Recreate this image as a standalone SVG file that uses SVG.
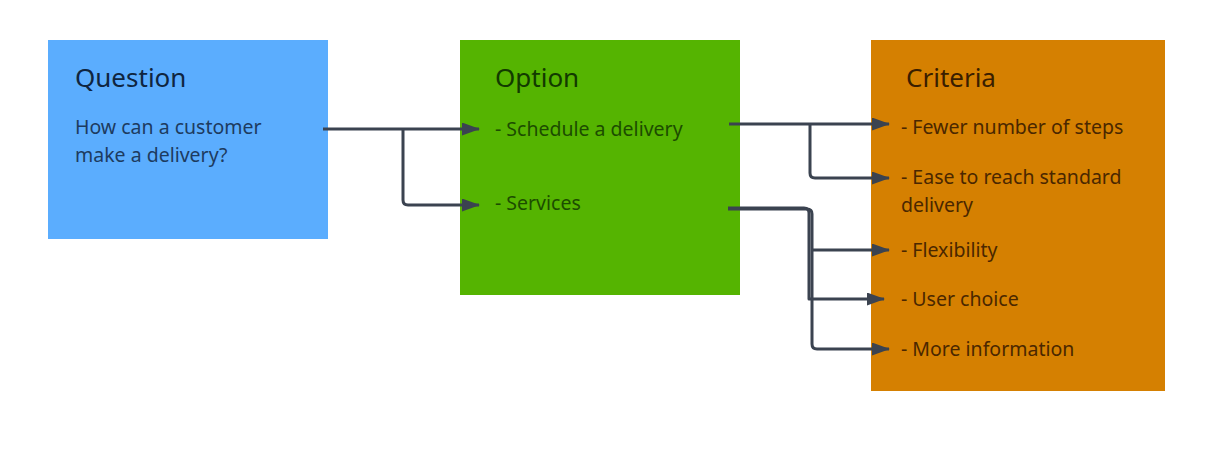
<svg xmlns="http://www.w3.org/2000/svg" width="1215" height="455" viewBox="0 0 1215 455">
<style>
.t{font-family:"Noto Sans","Liberation Sans",sans-serif;font-size:26px}
.b{font-family:"Noto Sans","Liberation Sans",sans-serif;font-size:19.5px}
.c{fill:none;stroke:#3b4350;stroke-width:3;stroke-linejoin:round}
</style>
<defs>
<marker id="ah" markerWidth="18" markerHeight="13" refX="17" refY="6.5" orient="auto" markerUnits="userSpaceOnUse">
<path d="M0,0 L18,6.5 L0,13 Z" fill="#3b4350"/>
</marker>
</defs>
<rect width="1215" height="455" fill="#ffffff"/>
<g id="question">
<rect x="48" y="40" width="280" height="199" fill="#5badfe"/>
<text class="t" x="75" y="87" fill="#0f2540">Question</text>
<text class="b" x="75" y="134" fill="#1d3b60">How can a customer</text>
<text class="b" x="75" y="162" fill="#1d3b60">make a delivery?</text>
</g>
<g id="option">
<rect x="460" y="40" width="280" height="255" fill="#55b401"/>
<text class="t" x="495" y="87" fill="#123a00">Option</text>
<text class="b" x="495" y="136" fill="#1c4c00">- Schedule a delivery</text>
<text class="b" x="495" y="210" fill="#1c4c00">- Services</text>
</g>
<g id="criteria">
<rect x="871" y="40" width="294" height="351" fill="#d58001"/>
<text class="t" x="906" y="87" fill="#3a1e00">Criteria</text>
<text class="b" x="901" y="134" fill="#4a2700">- Fewer number of steps</text>
<text class="b" x="901" y="184" fill="#4a2700">- Ease to reach standard</text>
<text class="b" x="901" y="212" fill="#4a2700">delivery</text>
<text class="b" x="901" y="257" fill="#4a2700">- Flexibility</text>
<text class="b" x="901" y="306" fill="#4a2700">- User choice</text>
<text class="b" x="901" y="356" fill="#4a2700">- More information</text>
</g>
<g id="connectors">
<path class="c" d="M323,129 H479" marker-end="url(#ah)"/>
<path class="c" d="M403,129 V200 Q403,205 408,205 H479" marker-end="url(#ah)"/>
<path class="c" d="M729,124 H889" marker-end="url(#ah)"/>
<path class="c" d="M810,124 V173 Q810,178 815,178 H889" marker-end="url(#ah)"/>
<path class="c" d="M728,208 H804 Q809,208 809,213 V299 H884" marker-end="url(#ah)"/>
<path class="c" d="M728,209 H807 Q812,209 812,214 V344 Q812,349 817,349 H889" marker-end="url(#ah)"/>
<path class="c" d="M812,250 H889" marker-end="url(#ah)"/>
</g>
</svg>
